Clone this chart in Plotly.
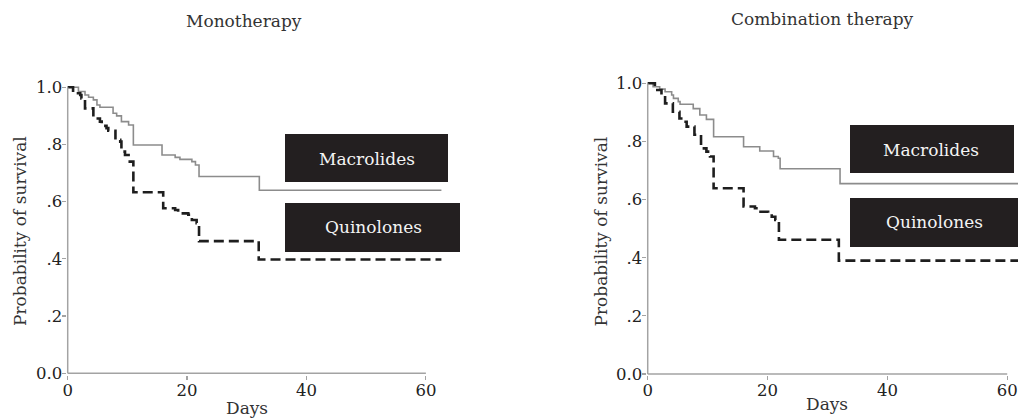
import plotly.graph_objects as go

# ---------------- data ----------------
panel_titles = ["Monotherapy", "Combination therapy"]
series_names = ["Macrolides", "Quinolones"]

# Monotherapy
mono_macro_days = [0, 1.8, 2.9, 3.5, 4.3, 4.9, 5.4, 7.6, 8.2, 9.0, 10.2, 11.0, 15.8, 18.0, 18.8, 20.8, 21.4, 22.0, 32.1, 62.6]
mono_macro_surv = [1.0, 0.985, 0.973, 0.965, 0.956, 0.938, 0.930, 0.909, 0.900, 0.880, 0.868, 0.798, 0.763, 0.755, 0.748, 0.740, 0.728, 0.688, 0.640, 0.640]
mono_quin_days = [0, 0.9, 2.1, 2.3, 2.9, 4.3, 5.4, 5.7, 6.5, 6.8, 8.0, 8.8, 9.0, 9.6, 10.2, 10.4, 11.0, 16.0, 18.0, 18.5, 20.2, 20.8, 21.6, 22.0, 32.0, 62.6]
mono_quin_surv = [1.0, 0.979, 0.973, 0.961, 0.926, 0.891, 0.880, 0.865, 0.857, 0.848, 0.816, 0.810, 0.775, 0.763, 0.755, 0.740, 0.633, 0.577, 0.571, 0.559, 0.554, 0.536, 0.525, 0.462, 0.398, 0.398]

# Combination therapy
comb_macro_days = [0, 0.9, 2.0, 2.9, 4.0, 4.3, 5.1, 5.4, 7.6, 8.7, 9.8, 11.0, 16.0, 18.7, 21.0, 21.8, 22.1, 32.1, 63.0]
comb_macro_surv = [1.0, 0.988, 0.980, 0.971, 0.960, 0.948, 0.937, 0.928, 0.913, 0.891, 0.876, 0.816, 0.782, 0.767, 0.748, 0.742, 0.706, 0.655, 0.655]
comb_quin_days = [0, 1.2, 2.3, 2.9, 4.2, 5.3, 5.9, 6.5, 7.8, 8.9, 9.8, 10.4, 11.0, 16.0, 17.9, 18.5, 20.1, 20.7, 21.3, 21.9, 31.9, 63.0]
comb_quin_surv = [1.0, 0.977, 0.960, 0.931, 0.902, 0.879, 0.868, 0.851, 0.823, 0.776, 0.765, 0.748, 0.639, 0.576, 0.570, 0.558, 0.553, 0.541, 0.530, 0.462, 0.390, 0.390]

x_tick_vals = [0, 20, 40, 60]
x_tick_text = ["0", "20", "40", "60"]
y_tick_vals = [0, 0.2, 0.4, 0.6, 0.8, 1.0]
y_tick_text = ["0.0", ".2", ".4", ".6", ".8", "1.0"]
x_axis_title = "Days"
y_axis_title = "Probability of survival"

# ---------------- styling / layout ----------------
PAGE_OFF = 0                 # body margin removed by post_script below
W, H = 1018 - PAGE_OFF, 419 - PAGE_OFF
FONT = "DejaVu Serif"
AXIS_GRAY = "#a3a3a3"
MACRO_COLOR = "#8c8c8c"
QUIN_COLOR = "#1e1e1e"
BOX_COLOR = "#231f20"

def px_x(p):
    return (p - PAGE_OFF) / W

def px_y(p):
    return 1 - (p - PAGE_OFF) / H

def dom_x(a, b):
    return [max(0.0, px_x(a)), min(1.0, px_x(b))]

def dom_y(top, bottom):
    return [max(0.0, px_y(bottom)), min(1.0, px_y(top))]

fig = go.Figure()

panels = [
    dict(xa="x", ya="y", macro=(mono_macro_days, mono_macro_surv), quin=(mono_quin_days, mono_quin_surv),
         xdom=dom_x(66.5, 443.8), ydom=dom_y(84.4, 374.7), xrange=[-0.2, 63.0],
         title_xy=(244, 21), xtitle_xy=(246.5, 408), ytitle_xy=(20, 231),
         boxes=[(285, 448, 134, 182, 367, 159), (285, 460, 203, 252, 373, 227)]),
    dict(xa="x2", ya="y2", macro=(comb_macro_days, comb_macro_surv), quin=(comb_quin_days, comb_quin_surv),
         xdom=dom_x(646.5, 1018), ydom=dom_y(80.4, 375.45), xrange=[-0.2, 61.8],
         title_xy=(822.5, 19), xtitle_xy=(826.7, 404), ytitle_xy=(600, 231.5),
         boxes=[(850, 1014, 125, 173, 931, 150), (850, 1018, 198, 247, 934, 222)]),
]

for i, p in enumerate(panels):
    fig.add_trace(go.Scatter(x=p["macro"][0], y=p["macro"][1], mode="lines", line_shape="hv",
                             line=dict(color=MACRO_COLOR, width=1.6),
                             name=series_names[0], showlegend=False, xaxis=p["xa"], yaxis=p["ya"]))
    fig.add_trace(go.Scatter(x=p["quin"][0], y=p["quin"][1], mode="lines", line_shape="hv",
                             line=dict(color=QUIN_COLOR, width=2.6, dash="10px,5px"),
                             name=series_names[1], showlegend=False, xaxis=p["xa"], yaxis=p["ya"]))

    # axis lines (only span 0..60 and 0..1)
    fig.add_shape(type="line", xref=p["xa"], yref=p["ya"], x0=0, x1=60, y0=0, y1=0,
                  line=dict(color=AXIS_GRAY, width=1.5), layer="above")
    fig.add_shape(type="line", xref=p["xa"], yref=p["ya"], x0=0, x1=0, y0=0, y1=1.0,
                  line=dict(color=AXIS_GRAY, width=1.5), layer="above")

    # panel title
    fig.add_annotation(text=panel_titles[i], x=px_x(p["title_xy"][0]), y=px_y(p["title_xy"][1]),
                       xref="paper", yref="paper", showarrow=False, xanchor="center", yanchor="middle",
                       font=dict(family=FONT, size=17, color="#333333"))
    # axis titles
    fig.add_annotation(text=x_axis_title, x=px_x(p["xtitle_xy"][0]), y=px_y(p["xtitle_xy"][1]),
                       xref="paper", yref="paper", showarrow=False, xanchor="center", yanchor="middle",
                       font=dict(family=FONT, size=17, color="#333333"))
    fig.add_annotation(text=y_axis_title, x=px_x(p["ytitle_xy"][0]), y=px_y(p["ytitle_xy"][1]),
                       xref="paper", yref="paper", showarrow=False, xanchor="center", yanchor="middle",
                       textangle=-90, font=dict(family=FONT, size=17, color="#333333"))

    # legend boxes
    for (x0, x1, y0, y1, tx, ty), name in zip(p["boxes"], series_names):
        fig.add_shape(type="rect", xref="paper", yref="paper", x0=px_x(x0), x1=px_x(x1),
                      y0=px_y(y1), y1=px_y(y0), fillcolor=BOX_COLOR, line=dict(width=0), layer="above")
        fig.add_annotation(text=name, x=px_x(tx), y=px_y(ty), xref="paper", yref="paper",
                           showarrow=False, xanchor="center", yanchor="middle",
                           font=dict(family=FONT, size=17, color="#f4f4f4"))

axis_common = dict(showgrid=False, zeroline=False, showline=False, ticks="outside",
                   ticklen=4, tickcolor=AXIS_GRAY, tickwidth=1.2, automargin=False,
                   ticklabelstandoff=-4, ticklabeloverflow="allow",
                   tickfont=dict(family=FONT, size=16.5, color="#222222"))

fig.update_layout(
    width=W, height=H,
    margin=dict(l=0, r=0, t=0, b=0, autoexpand=False),
    paper_bgcolor="white", plot_bgcolor="white",
    showlegend=False,
    hovermode=False,
    xaxis=dict(domain=panels[0]["xdom"], range=panels[0]["xrange"], anchor="y",
               tickvals=x_tick_vals, ticktext=x_tick_text, **axis_common),
    yaxis=dict(domain=panels[0]["ydom"], range=[-0.005, 1.01], anchor="x",
               tickvals=y_tick_vals, ticktext=y_tick_text, **axis_common),
    xaxis2=dict(domain=panels[1]["xdom"], range=panels[1]["xrange"], anchor="y2",
                tickvals=x_tick_vals, ticktext=x_tick_text, **axis_common),
    yaxis2=dict(domain=panels[1]["ydom"], range=[-0.005, 1.01], anchor="x2",
                tickvals=y_tick_vals, ticktext=y_tick_text, **axis_common),
)

fig.write_html("out.html",
               config={"displayModeBar": False, "staticPlot": True},
               post_script="document.body.style.margin='0';document.body.style.overflow='hidden';"
                           "document.documentElement.style.overflow='hidden';")
